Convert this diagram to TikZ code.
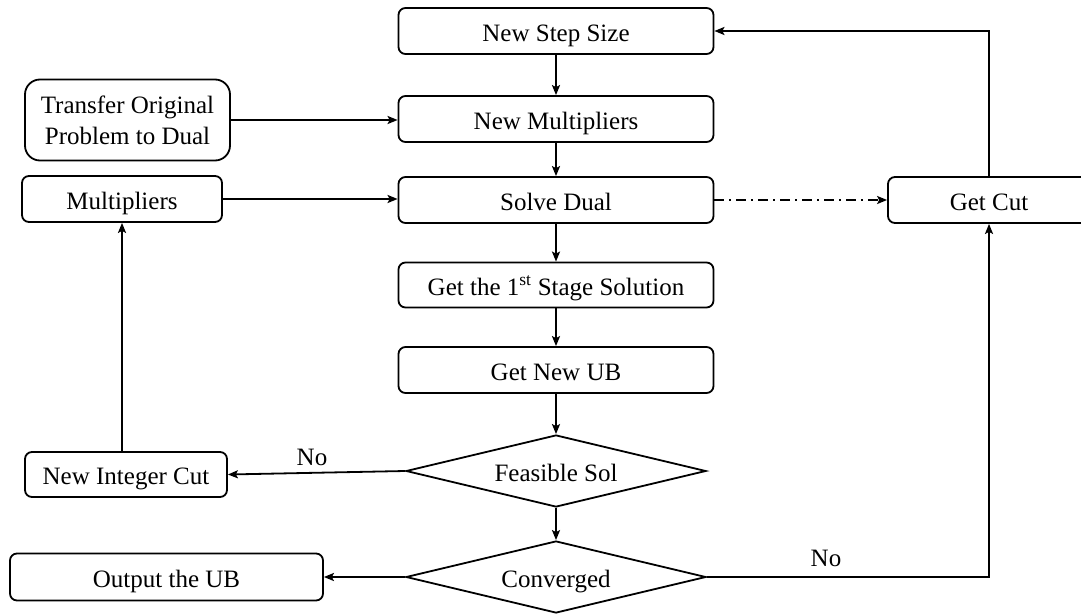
\documentclass[tikz,border=0pt]{standalone}
\usepackage{fontspec}
\setmainfont{Liberation Serif}
\newfontfamily\tnr{Liberation Serif}
\usetikzlibrary{shapes.geometric,arrows.meta}
\begin{document}
\begin{tikzpicture}[x=1pt,y=-1pt,
  every node/.style={font=\tnr\fontsize{25}{31}\selectfont},
  box/.style={draw,line width=1.8pt,rounded corners=7pt,inner sep=0pt,align=center},
  one/.style={text height=20pt,text depth=0pt},
  dia/.style={draw,line width=1.8pt,diamond,aspect=4,inner sep=0pt,minimum width=300pt,minimum height=72pt,text height=20pt,text depth=0pt},
  arr/.style={line width=1.8pt,-{Stealth[length=10pt,width=8pt,inset=2pt]}},
  lbl/.style={inner sep=0pt}
]
\useasboundingbox (0,0) rectangle (1081,613);
\node[box,one,minimum width=315pt,minimum height=46pt] (nss) at (556,31) {New Step Size};
\node[box,one,minimum width=315pt,minimum height=46pt] (nm) at (556,119) {New Multipliers};
\node[box,minimum width=205pt,minimum height=81pt,rounded corners=15pt] (tr) at (127.5,120) {Transfer Original\\Problem to Dual};
\node[box,one,minimum width=200pt,minimum height=46pt] (mul) at (122,199) {Multipliers};
\node[box,one,minimum width=315pt,minimum height=46pt] (sd) at (556,200) {Solve Dual};
\node[box,one,minimum width=202pt,minimum height=46pt] (gc) at (989,200) {Get Cut};
\node[box,one,minimum width=315pt,minimum height=45pt] (g1) at (556,285) {Get the 1\textsuperscript{st} Stage Solution};
\node[box,one,minimum width=315pt,minimum height=46pt] (gub) at (556,370) {Get New UB};
\node[dia] (fs) at (556,471) {Feasible Sol};
\node[box,one,minimum width=202pt,minimum height=45pt] (nic) at (126,474.5) {New Integer Cut};
\node[dia] (cv) at (556,577) {Converged};
\node[box,one,minimum width=313pt,minimum height=47pt] (out) at (166.5,577) {Output the UB};

\draw[arr] (nss.south) -- (nm.north);
\draw[arr] (tr.east) -- (tr.east -| nm.west);
\draw[arr] (nm.south) -- (sd.north);
\draw[arr] (mul.east) -- (mul.east -| sd.west);
\draw[arr,dash pattern=on 10pt off 5pt on 2pt off 5pt] (sd.east) -- (gc.west);
\draw[arr] (gc.north) |- (nss.east);
\draw[arr] (sd.south) -- (g1.north);
\draw[arr] (g1.south) -- (gub.north);
\draw[arr] (gub.south) -- (fs.north);
\draw[arr] (fs.west) -- (nic.east);
\node[lbl] (no1) at (312,457) {No};
\draw[arr] (mul.south |- nic.north) -- (mul.south);
\draw[arr] (fs.south) -- (cv.north);
\draw[arr] (cv.west) -- (out.east);
\draw[arr] (cv.east) -| (gc.south);
\node[lbl] (no2) at (826,558) {No};
\end{tikzpicture}
\end{document}
